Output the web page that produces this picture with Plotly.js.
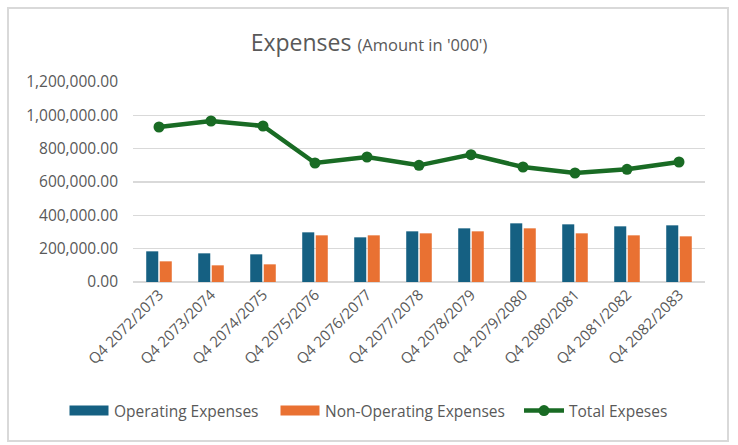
<!DOCTYPE html>
<html>
<head>
<meta charset="utf-8">
<script src="https://cdn.plot.ly/plotly-3.0.1.min.js"></script>
<style>
  html, body { margin: 0; padding: 0; background: #fff; }
  #wrap { position: relative; width: 738px; height: 445px; }
  #chart { position: absolute; left: 0; top: 0; width: 738px; height: 445px; }
  #frame { position: absolute; left: 7px; top: 7px; width: 718px; height: 431px;
           border: 2px solid #d9d9d9; pointer-events: none; }
</style>
</head>
<body>
<div id="wrap">
  <div id="chart"></div>
  <div id="frame"></div>
</div>
<script>
const categories = ["Q4 2072/2073","Q4 2073/2074","Q4 2074/2075","Q4 2075/2076","Q4 2076/2077",
  "Q4 2077/2078","Q4 2078/2079","Q4 2079/2080","Q4 2080/2081","Q4 2081/2082","Q4 2082/2083"];
const operatingExpenses = [184000, 172000, 166000, 298000, 268000, 304000, 322000, 352000, 346000, 334000, 340000];
const nonOperatingExpenses = [124000, 100000, 106000, 280000, 280000, 292000, 304000, 322000, 292000, 280000, 274000];
const totalExpenses = [930000, 966000, 936000, 714000, 750000, 700000, 764000, 690000, 654000, 676000, 720000];
const yTicks = [0, 200000, 400000, 600000, 800000, 1000000, 1200000];

const FONT = "Open Sans, sans-serif";
const GREY = "#595959";

const traces = [
  { type: "bar", name: "Operating Expenses", x: categories, y: operatingExpenses,
    marker: { color: "#156082" }, legend: "legend" },
  { type: "bar", name: "Non-Operating Expenses", x: categories, y: nonOperatingExpenses,
    marker: { color: "#E97132" }, legend: "legend2" },
  { type: "scatter", mode: "lines+markers", name: "Total Expeses", x: categories, y: totalExpenses,
    line: { color: "#196B24", width: 4.5 }, marker: { color: "#196B24", size: 11 }, legend: "legend3" }
];

function legendAt(px) {
  return {
    orientation: "h", xref: "container", yref: "container",
    x: px / 738, xanchor: "left", y: 1 - 411 / 445, yanchor: "middle",
    font: { size: 15.5, color: GREY }, itemwidth: 40, bgcolor: "rgba(0,0,0,0)"
  };
}

const layout = {
  width: 738, height: 445,
  margin: { l: 133, r: 33, t: 82, b: 163 },
  paper_bgcolor: "#fff", plot_bgcolor: "#fff",
  font: { family: FONT, color: GREY, size: 15 },
  title: {
    text: "Expenses <span style='font-size:16.5px'>(Amount in '000')</span>",
    font: { family: FONT, size: 23, color: GREY },
    x: 0.5, xanchor: "center", xref: "container",
    y: 1 - 43 / 445, yanchor: "middle", yref: "container"
  },
  barmode: "group", bargap: 0.48, bargroupgap: 0.11,
  xaxis: {
    type: "category", range: [-0.5, categories.length - 0.5],
    tickangle: -45, showgrid: false, zeroline: false, automargin: false,
    showline: false, ticks: "", tickfont: { size: 15, color: GREY }, fixedrange: true
  },
  yaxis: {
    range: [0, 1200000], tickvals: yTicks, tickformat: ",.2f", automargin: false,
    showgrid: true, gridcolor: "#d9d9d9", gridwidth: 1.5,
    zeroline: true, zerolinecolor: "#d9d9d9", zerolinewidth: 1.5,
    showline: false, ticks: "", ticklabelstandoff: 14,
    tickfont: { size: 15.5, color: GREY }, fixedrange: true
  },
  legend: legendAt(64),
  legend2: legendAt(275),
  legend3: legendAt(519),
  showlegend: true
};

Plotly.newPlot("chart", traces, layout, { displayModeBar: false, staticPlot: true }).then(function (gd) {
  // widen bar legend swatches to Excel-style rectangles
  gd.querySelectorAll("path.legendbar, .legendpoints path.legendundefined").forEach(function (p) {
    p.setAttribute("d", "M-19.5,-5H19.5V5H-19.5Z");
  });
});
</script>
</body>
</html>
